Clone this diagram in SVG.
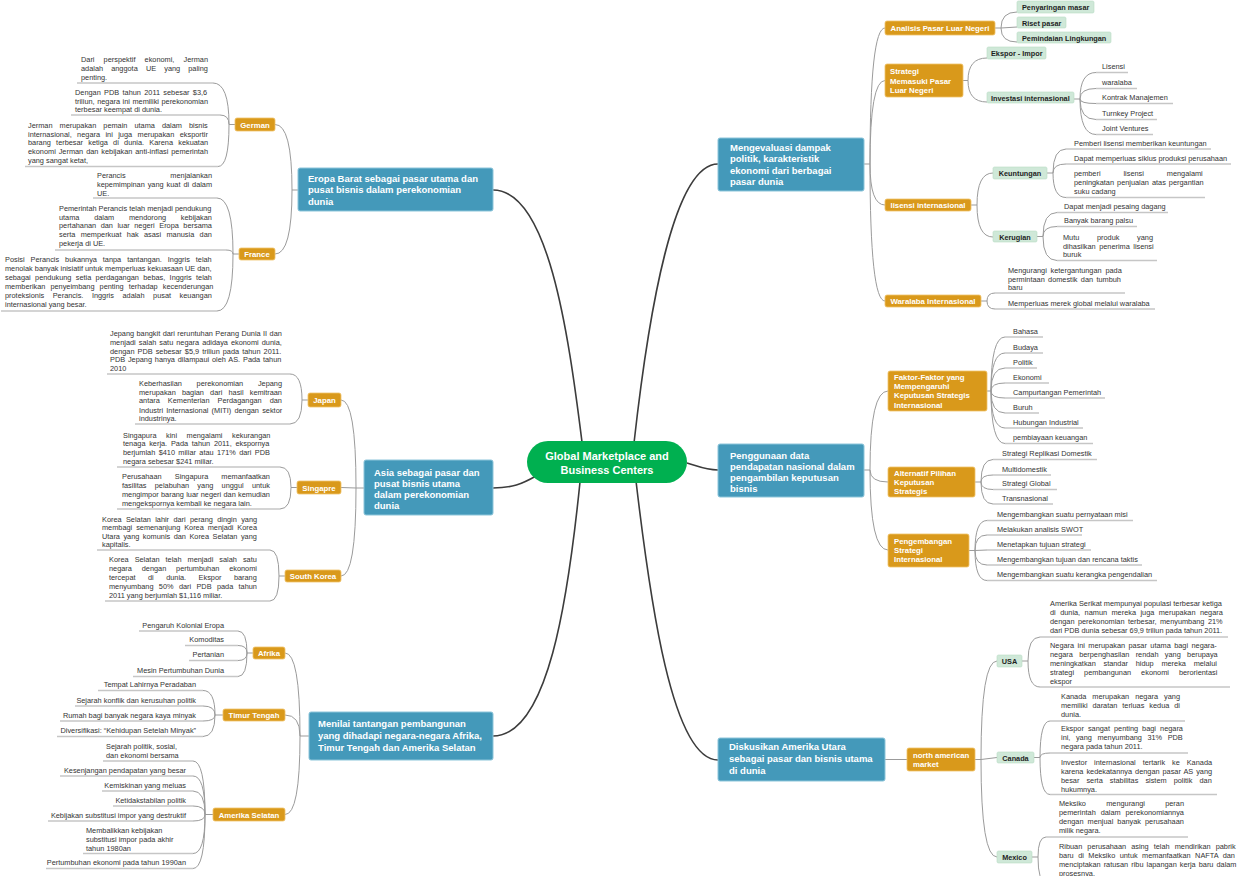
<svg xmlns="http://www.w3.org/2000/svg" width="1240" height="876" viewBox="0 0 1240 876">
<style>
text{font-family:"Liberation Sans",Arial,sans-serif}
.lf text{font-size:7.35px;fill:#333}
.ul{stroke:#c6c6c6;stroke-width:1.5}
.c0{fill:none;stroke:#3c3c3c;stroke-width:1.6}
.c1{fill:none;stroke:#9b9b9b;stroke-width:1}
.tp rect{fill:#4499ba;stroke:#8cc5da;stroke-width:1}
.tp text{font-size:9.5px;font-weight:bold;fill:#fff}
.st rect{fill:#d9991b;stroke:#f0c36a;stroke-width:.8}
.st text{font-size:7.8px;font-weight:bold;fill:#fff}
.gn rect{fill:#cfe8d8;stroke:#b8dcc4;stroke-width:.6}
.gn text{font-size:7.3px;font-weight:bold;fill:#1e1e1e}
.ce rect{fill:#00b050}
.ce text{font-size:11px;font-weight:bold;fill:#fff;text-anchor:middle}
.m{text-anchor:middle}
.e{text-anchor:end}
</style>
<rect width="1240" height="876" fill="#fff"/>
<g id="connectors">
<g class="c0">
<path d="M493,190 C548,190 568,330 582,442"/>
<path d="M493,488 C512,488 522,484 536,476"/>
<path d="M493,736 C548,736 568,600 580,482"/>
<path d="M718,164 C675,164 650,300 634,443"/>
<path d="M687,463 C700,467 706,470 718,470"/>
<path d="M718,760 C672,760 650,600 636,481"/>
</g>
<g class="c1">
<path d="M298,190 H292 M275,124.5 Q292,124.5 292,190 M275,254 Q292,254 292,190"/>
<path d="M364,488 H356 M341,400 Q356,400 356,488 M341,487.5 L356,488 M341,576 Q356,576 356,488"/>
<path d="M309,736 H300 M285,653 Q300,653 300,736 M285,715 Q300,715 300,736 M285,814.5 Q300,814.5 300,736"/>
<path d="M864,164 H870 M885,28 Q870,28 870,164 M885,80.5 Q870,80.5 870,164 M885,205 Q870,205 870,164 M885,301 Q870,301 870,164"/>
<path d="M864,470 H870 M888,391 Q870,391 870,470 M888,482 Q870,482 870,470 M888,550 Q870,550 870,470"/>
<path d="M885,759.5 H907"/>
<path d="M235,124.5 H229 M213,83 Q229,83 229,124.5 M220,115 Q229,115 229,124.5 M218,166.5 Q229,166.5 229,124.5"/>
<path d="M239,254 H233 M217,198 Q233,198 233,254 M226,250 Q233,250 233,254 M217,311 Q233,311 233,254"/>
<path d="M308,400 H302 M290,374 Q302,374 302,400 M290,424 Q302,424 302,400"/>
<path d="M297,487.5 H291 M280,467 Q291,467 291,487.5 M280,509 Q291,509 291,487.5"/>
<path d="M285,576 H279 M270,550 Q279,550 279,576 M270,601 Q279,601 279,576"/>
<path d="M253,653 H247 M238,631 Q247,631 247,653 M238,645.5 Q247,645.5 247,653 M238,660.5 Q247,660.5 247,653 M238,676.5 Q247,676.5 247,653"/>
<path d="M223,715 H215 M203,690.5 Q215,690.5 215,715 M203,706 Q215,706 215,715 M203,721 Q215,721 215,715 M203,736.5 Q215,736.5 215,715"/>
<path d="M213,814.5 H205 M193,761 Q205,761 205,814.5 M193,776 Q205,776 205,814.5 M193,791 Q205,791 205,814.5 M193,806 Q205,806 205,814.5 M193,821 Q205,821 205,814.5 M193,853.5 Q205,853.5 205,814.5 M193,868.5 Q205,868.5 205,814.5"/>
<path d="M995,28 H1001 M1017,12 Q1001,12 1001,28 M1017,27 L1001,28 M1017,42 Q1001,42 1001,28"/>
<path d="M963,80.5 H968 M987,58 Q968,58 968,80.5 M987,102 Q968,102 968,80.5"/>
<path d="M1074,99 H1080 M1096,72.5 Q1080,72.5 1080,99 M1096,88.5 Q1080,88.5 1080,99 M1096,103.5 Q1080,103.5 1080,99 M1096,119.5 Q1080,119.5 1080,99 M1096,134.5 Q1080,134.5 1080,99"/>
<path d="M971,205 H977 M993,173 Q977,173 977,205 M993,237 Q977,237 977,205"/>
<path d="M1047,173 H1053 M1066,149 Q1053,149 1053,173 M1066,164 Q1053,164 1053,173 M1066,197.5 Q1053,197.5 1053,173"/>
<path d="M1037,236.5 H1043 M1057,212.5 Q1043,212.5 1043,236.5 M1057,226.5 Q1043,226.5 1043,236.5 M1057,260.5 Q1043,260.5 1043,236.5"/>
<path d="M981,301 H987 M995,293 Q987,293 987,301 M995,309 Q987,309 987,301"/>
<path d="M987,391 H991 M1005,337 Q991,337 991,391 M1005,353 Q991,353 991,391 M1005,368 Q991,368 991,391 M1005,383 Q991,383 991,391 M1005,398 Q991,398 991,391 M1005,413 Q991,413 991,391 M1005,428 Q991,428 991,391 M1005,443.5 Q991,443.5 991,391"/>
<path d="M975,482 H981 M993,459.5 Q981,459.5 981,482 M993,475 Q981,475 981,482 M993,489.5 Q981,489.5 981,482 M993,504 Q981,504 981,482"/>
<path d="M969,550.5 H975 M987,520.5 Q975,520.5 975,550.5 M987,535 Q975,535 975,550.5 M987,550 L975,550.5 M987,565 Q975,565 975,550.5 M987,580.5 Q975,580.5 975,550.5"/>
<path d="M975,759.5 H981 M997,661 Q981,661 981,759.5 M997,757.5 L981,759.5 M997,857 Q981,857 981,759.5"/>
<path d="M1022,661 H1028 M1040,637 Q1028,637 1028,661 M1040,687 Q1028,687 1028,661"/>
<path d="M1034,757.5 H1040 M1050,721 Q1040,721 1040,757.5 M1050,753 Q1040,753 1040,757.5 M1050,794.5 Q1040,794.5 1040,757.5"/>
<path d="M1032,857 H1038 M1046,837 Q1038,837 1038,857 M1046,882 Q1038,882 1038,857"/>
</g>
</g>

<g id="center" class="ce"><rect x="527" y="441" width="160" height="42" rx="21"/><text x="607" y="460">Global Marketplace and</text><text x="607" y="473.5">Business Centers</text></g>

<g id="t-eropa" class="tp"><rect x="298" y="168" width="195" height="43" rx="2"/><text x="308" y="182">Eropa Barat sebagai pasar utama dan</text><text x="308" y="193">pusat bisnis dalam perekonomian</text><text x="308" y="204.5">dunia</text></g>
<g id="t-asia" class="tp"><rect x="364" y="460" width="129" height="55" rx="2"/><text x="374" y="476">Asia sebagai pasar dan</text><text x="374" y="487">pusat bisnis utama</text><text x="374" y="498">dalam perekonomian</text><text x="374" y="509">dunia</text></g>
<g id="t-menilai" class="tp"><rect x="309" y="712" width="184" height="48" rx="2"/><text x="318" y="727">Menilai tantangan pembangunan</text><text x="318" y="739">yang dihadapi negara-negara Afrika,</text><text x="318" y="751">Timur Tengah dan Amerika Selatan</text></g>
<g id="t-evaluasi" class="tp"><rect x="718" y="138" width="146" height="53" rx="2"/><text x="730" y="150.5">Mengevaluasi dampak</text><text x="730" y="162">politik, karakteristik</text><text x="730" y="173.5">ekonomi dari berbagai</text><text x="730" y="184.5">pasar dunia</text></g>
<g id="t-penggunaan" class="tp"><rect x="718" y="444" width="146" height="53" rx="2"/><text x="730" y="459">Penggunaan data</text><text x="730" y="470">pendapatan nasional dalam</text><text x="730" y="481">pengambilan keputusan</text><text x="730" y="492">bisnis</text></g>
<g id="t-diskusi" class="tp"><rect x="718" y="738" width="167" height="43" rx="2"/><text x="729" y="750">Diskusikan Amerika Utara</text><text x="729" y="762">sebagai pasar dan bisnis utama</text><text x="729" y="774">di dunia</text></g>

<g id="s-german" class="st"><rect x="235" y="118" width="40" height="13" rx="2"/><text class="m" x="255" y="127.5">German</text></g>
<g id="s-france" class="st"><rect x="239" y="248" width="36" height="12" rx="2"/><text class="m" x="257" y="257">France</text></g>
<g id="s-japan" class="st"><rect x="308" y="393" width="33" height="14" rx="2"/><text class="m" x="324.5" y="403">Japan</text></g>
<g id="s-singapre" class="st"><rect x="297" y="481" width="44" height="13" rx="2"/><text class="m" x="319" y="490.5">Singapre</text></g>
<g id="s-korea" class="st"><rect x="285" y="570" width="56" height="12" rx="2"/><text class="m" x="313" y="579">South Korea</text></g>
<g id="s-afrika" class="st"><rect x="253" y="647" width="32" height="12" rx="2"/><text class="m" x="269" y="656">Afrika</text></g>
<g id="s-timur" class="st"><rect x="223" y="709" width="62" height="12" rx="2"/><text class="m" x="254" y="718">Timur Tengah</text></g>
<g id="s-amsel" class="st"><rect x="213" y="808" width="72" height="13" rx="2"/><text class="m" x="249" y="817.5">Amerika Selatan</text></g>
<g id="s-analisis" class="st"><rect x="885" y="21" width="110" height="14" rx="2"/><text class="m" x="940" y="31">Analisis Pasar Luar Negeri</text></g>
<g id="s-strategi" class="st"><rect x="885" y="64" width="78" height="33" rx="2"/><text x="890" y="74">Strategi</text><text x="890" y="83.5">Memasuki Pasar</text><text x="890" y="93">Luar Negeri</text></g>
<g id="s-lisensi" class="st"><rect x="885" y="199" width="86" height="12" rx="2"/><text class="m" x="928" y="208">lisensi internasional</text></g>
<g id="s-waralaba" class="st"><rect x="885" y="295" width="96" height="12" rx="2"/><text class="m" x="933" y="304">Waralaba Internasional</text></g>
<g id="s-faktor" class="st"><rect x="888" y="371" width="99" height="40" rx="2"/><text x="894" y="379.5">Faktor-Faktor yang</text><text x="894" y="389">Mempengaruhi</text><text x="894" y="398">Keputusan Strategis</text><text x="894" y="407.5">Internasional</text></g>
<g id="s-alternatif" class="st"><rect x="888" y="467" width="87" height="30" rx="2"/><text x="894" y="475.5">Alternatif Pilihan</text><text x="894" y="485">Keputusan</text><text x="894" y="494">Strategis</text></g>
<g id="s-pengembangan" class="st"><rect x="888" y="534" width="81" height="33" rx="2"/><text x="894" y="543.5">Pengembangan</text><text x="894" y="552.5">Strategi</text><text x="894" y="561.5">Internasional</text></g>
<g id="s-nam" class="st"><rect x="907" y="748" width="68" height="23" rx="2"/><text x="913" y="758">north american</text><text x="913" y="767">market</text></g>

<g id="g-penyaringan" class="gn"><rect x="1017" y="1" width="77" height="12" rx="1.5"/><text x="1022" y="10">Penyaringan masar</text></g>
<g id="g-riset" class="gn"><rect x="1017" y="17" width="49" height="11" rx="1.5"/><text x="1022" y="25.5">Riset pasar</text></g>
<g id="g-pemindaian" class="gn"><rect x="1017" y="32" width="94" height="11" rx="1.5"/><text x="1022" y="40.5">Pemindaian Lingkungan</text></g>
<g id="g-ekspor" class="gn"><rect x="987" y="47" width="59" height="12" rx="1.5"/><text x="991" y="55.5">Ekspor - Impor</text></g>
<g id="g-investasi" class="gn"><rect x="987" y="92" width="87" height="11" rx="1.5"/><text x="991" y="100.5">Investasi internasional</text></g>
<g id="g-keuntungan" class="gn"><rect x="993" y="167" width="54" height="12" rx="1.5"/><text class="m" x="1020" y="176">Keuntungan</text></g>
<g id="g-kerugian" class="gn"><rect x="993" y="231" width="44" height="11" rx="1.5"/><text class="m" x="1015" y="239.5">Kerugian</text></g>
<g id="g-usa" class="gn"><rect x="997" y="655" width="25" height="12" rx="1.5"/><text class="m" x="1009.5" y="664">USA</text></g>
<g id="g-canada" class="gn"><rect x="997" y="752" width="37" height="11" rx="1.5"/><text class="m" x="1015.5" y="760.5">Canada</text></g>
<g id="g-mexico" class="gn"><rect x="997" y="851" width="35" height="12" rx="1.5"/><text class="m" x="1014.5" y="860">Mexico</text></g>

<g id="l-ger1" class="lf"><text x="81" y="62" word-spacing="7.1">Dari perspektif ekonomi, Jerman</text><text x="81" y="71" word-spacing="6.1">adalah anggota UE yang paling</text><text x="81" y="80">penting.</text><line class="ul" x1="77" y1="83" x2="213" y2="83"/></g>
<g id="l-ger2" class="lf"><text x="75" y="94.5" word-spacing="1.3">Dengan PDB tahun 2011 sebesar $3,6</text><text x="75" y="103.5" word-spacing="0.5">triliun, negara ini memiliki perekonomian</text><text x="75" y="112">terbesar keempat di dunia.</text><line class="ul" x1="71" y1="115" x2="220" y2="115"/></g>
<g id="l-ger3" class="lf"><text x="28" y="127.5" word-spacing="5">Jerman merupakan pemain utama dalam bisnis</text><text x="28" y="136.5" word-spacing="3.4">internasional, negara ini juga merupakan eksportir</text><text x="28" y="145" word-spacing="3.2">barang terbesar ketiga di dunia. Karena kekuatan</text><text x="28" y="154" word-spacing="0.9">ekonomi Jerman dan kebijakan anti-inflasi pemerintah</text><text x="28" y="162.5">yang sangat ketat,</text><line class="ul" x1="25" y1="166.5" x2="218" y2="166.5"/></g>
<g id="l-fra1" class="lf"><text x="97" y="177.5">Perancis <tspan x="212" text-anchor="end">menjalankan</tspan></text><text x="97" y="186.5" word-spacing="0.9">kepemimpinan yang kuat di dalam</text><text x="97" y="195.5">UE.</text><line class="ul" x1="93" y1="198" x2="217" y2="198"/></g>
<g id="l-fra2" class="lf"><text x="59" y="210.5">Pemerintah Perancis telah menjadi pendukung</text><text x="59" y="219.5" word-spacing="12.7">utama dalam mendorong kebijakan</text><text x="59" y="228" word-spacing="2.5">pertahanan dan luar negeri Eropa bersama</text><text x="59" y="237" word-spacing="3.3">serta memperkuat hak asasi manusia dan</text><text x="59" y="246">pekerja di UE.</text><line class="ul" x1="55" y1="250" x2="226" y2="250"/></g>
<g id="l-fra3" class="lf"><text x="5" y="261.5" word-spacing="3.9">Posisi Perancis bukannya tanpa tantangan. Inggris telah</text><text x="5" y="270.5">menolak banyak inisiatif untuk memperluas kekuasaan UE dan,</text><text x="5" y="279.5" word-spacing="2.3">sebagai pendukung setia perdagangan bebas, Inggris telah</text><text x="5" y="289" word-spacing="3">memberikan penyeimbang penting terhadap kecenderungan</text><text x="5" y="298" word-spacing="6.5">proteksionis Perancis. Inggris adalah pusat keuangan</text><text x="5" y="306.5">internasional yang besar.</text><line class="ul" x1="1" y1="311" x2="217" y2="311"/></g>
<g id="l-jap1" class="lf"><text x="110" y="336" word-spacing="0.4">Jepang bangkit dari reruntuhan Perang Dunia II dan</text><text x="110" y="345" word-spacing="1">menjadi salah satu negara adidaya ekonomi dunia,</text><text x="110" y="353.5" word-spacing="1">dengan PDB sebesar $5,9 triliun pada tahun 2011.</text><text x="110" y="362" word-spacing="0.8">PDB Jepang hanya dilampaui oleh AS. Pada tahun</text><text x="110" y="371">2010</text><line class="ul" x1="107" y1="374" x2="290" y2="374"/></g>
<g id="l-jap2" class="lf"><text x="139" y="386" word-spacing="12.7">Keberhasilan perekonomian Jepang</text><text x="139" y="394.5" word-spacing="4.1">merupakan bagian dari hasil kemitraan</text><text x="139" y="403" word-spacing="6">antara Kementerian Perdagangan dan</text><text x="139" y="412.5" word-spacing="1.2">Industri Internasional (MITI) dengan sektor</text><text x="139" y="421">industrinya.</text><line class="ul" x1="135" y1="424" x2="290" y2="424"/></g>
<g id="l-sin1" class="lf"><text x="123" y="437.5" word-spacing="7.5">Singapura kini mengalami kekurangan</text><text x="123" y="446" word-spacing="1.7">tenaga kerja. Pada tahun 2011, ekspornya</text><text x="123" y="455" word-spacing="1.35">berjumlah $410 miliar atau 171% dari PDB</text><text x="123" y="463.5">negara sebesar $241 miliar.</text><line class="ul" x1="117" y1="467" x2="280" y2="467"/></g>
<g id="l-sin2" class="lf"><text x="122" y="479" word-spacing="11.1">Perusahaan Singapura memanfaatkan</text><text x="122" y="488" word-spacing="6.25">fasilitas pelabuhan yang unggul untuk</text><text x="122" y="497" word-spacing="0.26">mengimpor barang luar negeri dan kemudian</text><text x="122" y="505.5">mengekspornya kembali ke negara lain.</text><line class="ul" x1="117" y1="509" x2="280" y2="509"/></g>
<g id="l-kor1" class="lf"><text x="102" y="521.5" word-spacing="2.3">Korea Selatan lahir dari perang dingin yang</text><text x="102" y="530" word-spacing="1.9">membagi semenanjung Korea menjadi Korea</text><text x="102" y="538.5" word-spacing="1.45">Utara yang komunis dan Korea Selatan yang</text><text x="102" y="547">kapitalis.</text><line class="ul" x1="97" y1="550" x2="270" y2="550"/></g>
<g id="l-kor2" class="lf"><text x="109" y="561.5" word-spacing="4">Korea Selatan telah menjadi salah satu</text><text x="109" y="570.5" word-spacing="7.8">negara dengan pertumbuhan ekonomi</text><text x="109" y="579.5" word-spacing="10.4">tercepat di dunia. Ekspor barang</text><text x="109" y="588.5" word-spacing="3.3">menyumbang 50% dari PDB pada tahun</text><text x="109" y="597.5">2011 yang berjumlah $1,116 miliar.</text><line class="ul" x1="105" y1="601" x2="270" y2="601"/></g>

<g id="l-afr1" class="lf"><text class="e" x="224" y="627.5">Pengaruh Kolonial Eropa</text><line class="ul" x1="139" y1="631" x2="238" y2="631"/></g>
<g id="l-afr2" class="lf"><text class="e" x="224" y="642">Komoditas</text><line class="ul" x1="185" y1="645.5" x2="238" y2="645.5"/></g>
<g id="l-afr3" class="lf"><text class="e" x="224" y="657">Pertanian</text><line class="ul" x1="189" y1="660.5" x2="238" y2="660.5"/></g>
<g id="l-afr4" class="lf"><text class="e" x="224" y="673">Mesin Pertumbuhan Dunia</text><line class="ul" x1="133" y1="676.5" x2="238" y2="676.5"/></g>
<g id="l-tim1" class="lf"><text class="e" x="196" y="687">Tempat Lahirnya Peradaban</text><line class="ul" x1="98" y1="690.5" x2="203" y2="690.5"/></g>
<g id="l-tim2" class="lf"><text class="e" x="196" y="702.5">Sejarah konflik dan kerusuhan politik</text><line class="ul" x1="75" y1="706" x2="203" y2="706"/></g>
<g id="l-tim3" class="lf"><text class="e" x="196" y="717.5">Rumah bagi banyak negara kaya minyak</text><line class="ul" x1="60" y1="721" x2="203" y2="721"/></g>
<g id="l-tim4" class="lf"><text class="e" x="196" y="733">Diversifikasi: “Kehidupan Setelah Minyak”</text><line class="ul" x1="57" y1="736.5" x2="203" y2="736.5"/></g>
<g id="l-ams1" class="lf"><text x="106" y="748.5">Sejarah politik, sosial,</text><text x="106" y="757.5">dan ekonomi bersama</text><line class="ul" x1="103" y1="761" x2="193" y2="761"/></g>
<g id="l-ams2" class="lf"><text class="e" x="186" y="772.5">Kesenjangan pendapatan yang besar</text><line class="ul" x1="60" y1="776" x2="193" y2="776"/></g>
<g id="l-ams3" class="lf"><text class="e" x="186" y="787.5">Kemiskinan yang meluas</text><line class="ul" x1="102" y1="791" x2="193" y2="791"/></g>
<g id="l-ams4" class="lf"><text class="e" x="186" y="802.5">Ketidakstabilan politik</text><line class="ul" x1="113" y1="806" x2="193" y2="806"/></g>
<g id="l-ams5" class="lf"><text class="e" x="186" y="817.5">Kebijakan substitusi impor yang destruktif</text><line class="ul" x1="48" y1="821" x2="193" y2="821"/></g>
<g id="l-ams6" class="lf"><text x="86" y="833">Membalikkan kebijakan</text><text x="86" y="842">substitusi impor pada akhir</text><text x="86" y="850.5">tahun 1980an</text><line class="ul" x1="83" y1="853.5" x2="193" y2="853.5"/></g>
<g id="l-ams7" class="lf"><text class="e" x="186" y="865">Pertumbuhan ekonomi pada tahun 1990an</text><line class="ul" x1="46" y1="868.5" x2="193" y2="868.5"/></g>

<g id="l-inv1" class="lf"><text x="1102" y="69">Lisensi</text><line class="ul" x1="1096" y1="72.5" x2="1128" y2="72.5"/></g>
<g id="l-inv2" class="lf"><text x="1102" y="85">waralaba</text><line class="ul" x1="1096" y1="88.5" x2="1137" y2="88.5"/></g>
<g id="l-inv3" class="lf"><text x="1102" y="100">Kontrak Manajemen</text><line class="ul" x1="1096" y1="103.5" x2="1173" y2="103.5"/></g>
<g id="l-inv4" class="lf"><text x="1102" y="116">Turnkey Project</text><line class="ul" x1="1096" y1="119.5" x2="1157" y2="119.5"/></g>
<g id="l-inv5" class="lf"><text x="1102" y="131">Joint Ventures</text><line class="ul" x1="1096" y1="134.5" x2="1153" y2="134.5"/></g>
<g id="l-ken1" class="lf"><text x="1074" y="145.5">Pemberi lisensi memberikan keuntungan</text><line class="ul" x1="1066" y1="149" x2="1211" y2="149"/></g>
<g id="l-ken2" class="lf"><text x="1074" y="160.5">Dapat memperluas siklus produksi perusahaan</text><line class="ul" x1="1066" y1="164" x2="1231" y2="164"/></g>
<g id="l-ken3" class="lf"><text x="1074" y="176" word-spacing="20.9">pemberi lisensi mengalami</text><text x="1074" y="185" word-spacing="1">peningkatan penjualan atas pergantian</text><text x="1074" y="194">suku cadang</text><line class="ul" x1="1066" y1="197.5" x2="1205" y2="197.5"/></g>
<g id="l-ker1" class="lf"><text x="1064" y="209">Dapat menjadi pesaing dagang</text><line class="ul" x1="1057" y1="212.5" x2="1168" y2="212.5"/></g>
<g id="l-ker2" class="lf"><text x="1064" y="223">Banyak barang palsu</text><line class="ul" x1="1057" y1="226.5" x2="1137" y2="226.5"/></g>
<g id="l-ker3" class="lf"><text x="1063" y="240" word-spacing="15.6">Mutu produk yang</text><text x="1063" y="248.5" word-spacing="1.45">dihasilkan penerima lisensi</text><text x="1063" y="257">buruk</text><line class="ul" x1="1057" y1="260.5" x2="1157" y2="260.5"/></g>
<g id="l-war1" class="lf"><text x="1008" y="273" word-spacing="1.75">Mengurangi ketergantungan pada</text><text x="1008" y="281.5" word-spacing="1.3">permintaan domestik dan tumbuh</text><text x="1008" y="290">baru</text><line class="ul" x1="995" y1="293" x2="1125" y2="293"/></g>
<g id="l-war2" class="lf"><text x="1008" y="305.5">Memperluas merek global melalui waralaba</text><line class="ul" x1="995" y1="309" x2="1155" y2="309"/></g>
<g id="l-fak1" class="lf"><text x="1013" y="333.5">Bahasa</text><line class="ul" x1="1005" y1="337" x2="1043" y2="337"/></g>
<g id="l-fak2" class="lf"><text x="1013" y="349.5">Budaya</text><line class="ul" x1="1005" y1="353" x2="1043" y2="353"/></g>
<g id="l-fak3" class="lf"><text x="1013" y="364.5">Politik</text><line class="ul" x1="1005" y1="368" x2="1037" y2="368"/></g>
<g id="l-fak4" class="lf"><text x="1013" y="379.5">Ekonomi</text><line class="ul" x1="1005" y1="383" x2="1049" y2="383"/></g>
<g id="l-fak5" class="lf"><text x="1013" y="394.5">Campurtangan Pemerintah</text><line class="ul" x1="1005" y1="398" x2="1105" y2="398"/></g>
<g id="l-fak6" class="lf"><text x="1013" y="409.5">Buruh</text><line class="ul" x1="1005" y1="413" x2="1039" y2="413"/></g>
<g id="l-fak7" class="lf"><text x="1013" y="424.5">Hubungan Industrial</text><line class="ul" x1="1005" y1="428" x2="1083" y2="428"/></g>
<g id="l-fak8" class="lf"><text x="1013" y="440">pembiayaan keuangan</text><line class="ul" x1="1005" y1="443.5" x2="1093" y2="443.5"/></g>
<g id="l-alt1" class="lf"><text x="1002" y="456">Strategi Replikasi Domestik</text><line class="ul" x1="993" y1="459.5" x2="1097" y2="459.5"/></g>
<g id="l-alt2" class="lf"><text x="1002" y="471.5">Multidomestik</text><line class="ul" x1="993" y1="475" x2="1051" y2="475"/></g>
<g id="l-alt3" class="lf"><text x="1002" y="486">Strategi Global</text><line class="ul" x1="993" y1="489.5" x2="1057" y2="489.5"/></g>
<g id="l-alt4" class="lf"><text x="1002" y="500.5">Transnasional</text><line class="ul" x1="993" y1="504" x2="1053" y2="504"/></g>
<g id="l-pen1" class="lf"><text x="997" y="517">Mengembangkan suatu pernyataan misi</text><line class="ul" x1="987" y1="520.5" x2="1133" y2="520.5"/></g>
<g id="l-pen2" class="lf"><text x="997" y="531.5">Melakukan analisis SWOT</text><line class="ul" x1="987" y1="535" x2="1082" y2="535"/></g>
<g id="l-pen3" class="lf"><text x="997" y="546.5">Menetapkan tujuan strategi</text><line class="ul" x1="987" y1="550" x2="1091" y2="550"/></g>
<g id="l-pen4" class="lf"><text x="997" y="561.5">Mengembangkan tujuan dan rencana taktis</text><line class="ul" x1="987" y1="565" x2="1142" y2="565"/></g>
<g id="l-pen5" class="lf"><text x="997" y="577">Mengembangkan suatu kerangka pengendalian</text><line class="ul" x1="987" y1="580.5" x2="1157" y2="580.5"/></g>
<g id="l-usa1" class="lf"><text x="1050" y="606">Amerika Serikat mempunyai populasi terbesar ketiga</text><text x="1050" y="615" word-spacing="2.4">di dunia, namun mereka juga merupakan negara</text><text x="1050" y="624" word-spacing="1.4">dengan perekonomian terbesar, menyumbang 21%</text><text x="1050" y="633">dari PDB dunia sebesar 69,9 triliun pada tahun 2011.</text><line class="ul" x1="1040" y1="637" x2="1228" y2="637"/></g>
<g id="l-usa2" class="lf"><text x="1050" y="647.5" word-spacing="1.4">Negara ini merupakan pasar utama bagi negara-</text><text x="1050" y="656.5" word-spacing="4.25">negara berpenghasilan rendah yang berupaya</text><text x="1050" y="665.5" word-spacing="5.7">meningkatkan standar hidup mereka melalui</text><text x="1050" y="674.5" word-spacing="8">strategi pembangunan ekonomi berorientasi</text><text x="1050" y="683.5">ekspor</text><line class="ul" x1="1040" y1="687" x2="1230" y2="687"/></g>
<g id="l-can1" class="lf"><text x="1061" y="699" word-spacing="4">Kanada merupakan negara yang</text><text x="1061" y="708" word-spacing="2.9">memiliki daratan terluas kedua di</text><text x="1061" y="717">dunia.</text><line class="ul" x1="1050" y1="721" x2="1185" y2="721"/></g>
<g id="l-can2" class="lf"><text x="1061" y="731" word-spacing="2">Ekspor sangat penting bagi negara</text><text x="1061" y="740" word-spacing="3.5">ini, yang menyumbang 31% PDB</text><text x="1061" y="749">negara pada tahun 2011.</text><line class="ul" x1="1050" y1="753" x2="1188" y2="753"/></g>
<g id="l-can3" class="lf"><text x="1061" y="765" word-spacing="4.9">Investor internasional tertarik ke Kanada</text><text x="1061" y="774" word-spacing="0.9">karena kedekatannya dengan pasar AS yang</text><text x="1061" y="783" word-spacing="5">besar serta stabilitas sistem politik dan</text><text x="1061" y="792">hukumnya.</text><line class="ul" x1="1050" y1="794.5" x2="1217" y2="794.5"/></g>
<g id="l-mex1" class="lf"><text x="1059" y="806" word-spacing="18.2">Meksiko mengurangi peran</text><text x="1059" y="815" word-spacing="2.85">pemerintah dalam perekonomiannya</text><text x="1059" y="824" word-spacing="2">dengan menjual banyak perusahaan</text><text x="1059" y="833">milik negara.</text><line class="ul" x1="1046" y1="837" x2="1188" y2="837"/></g>
<g id="l-mex2" class="lf"><text x="1059" y="849" word-spacing="3">Ribuan perusahaan asing telah mendirikan pabrik</text><text x="1059" y="858" word-spacing="2.4">baru di Meksiko untuk memanfaatkan NAFTA dan</text><text x="1059" y="867" word-spacing="1">menciptakan ratusan ribu lapangan kerja baru dalam</text><text x="1059" y="875.5">prosesnya.</text></g>
</svg>
